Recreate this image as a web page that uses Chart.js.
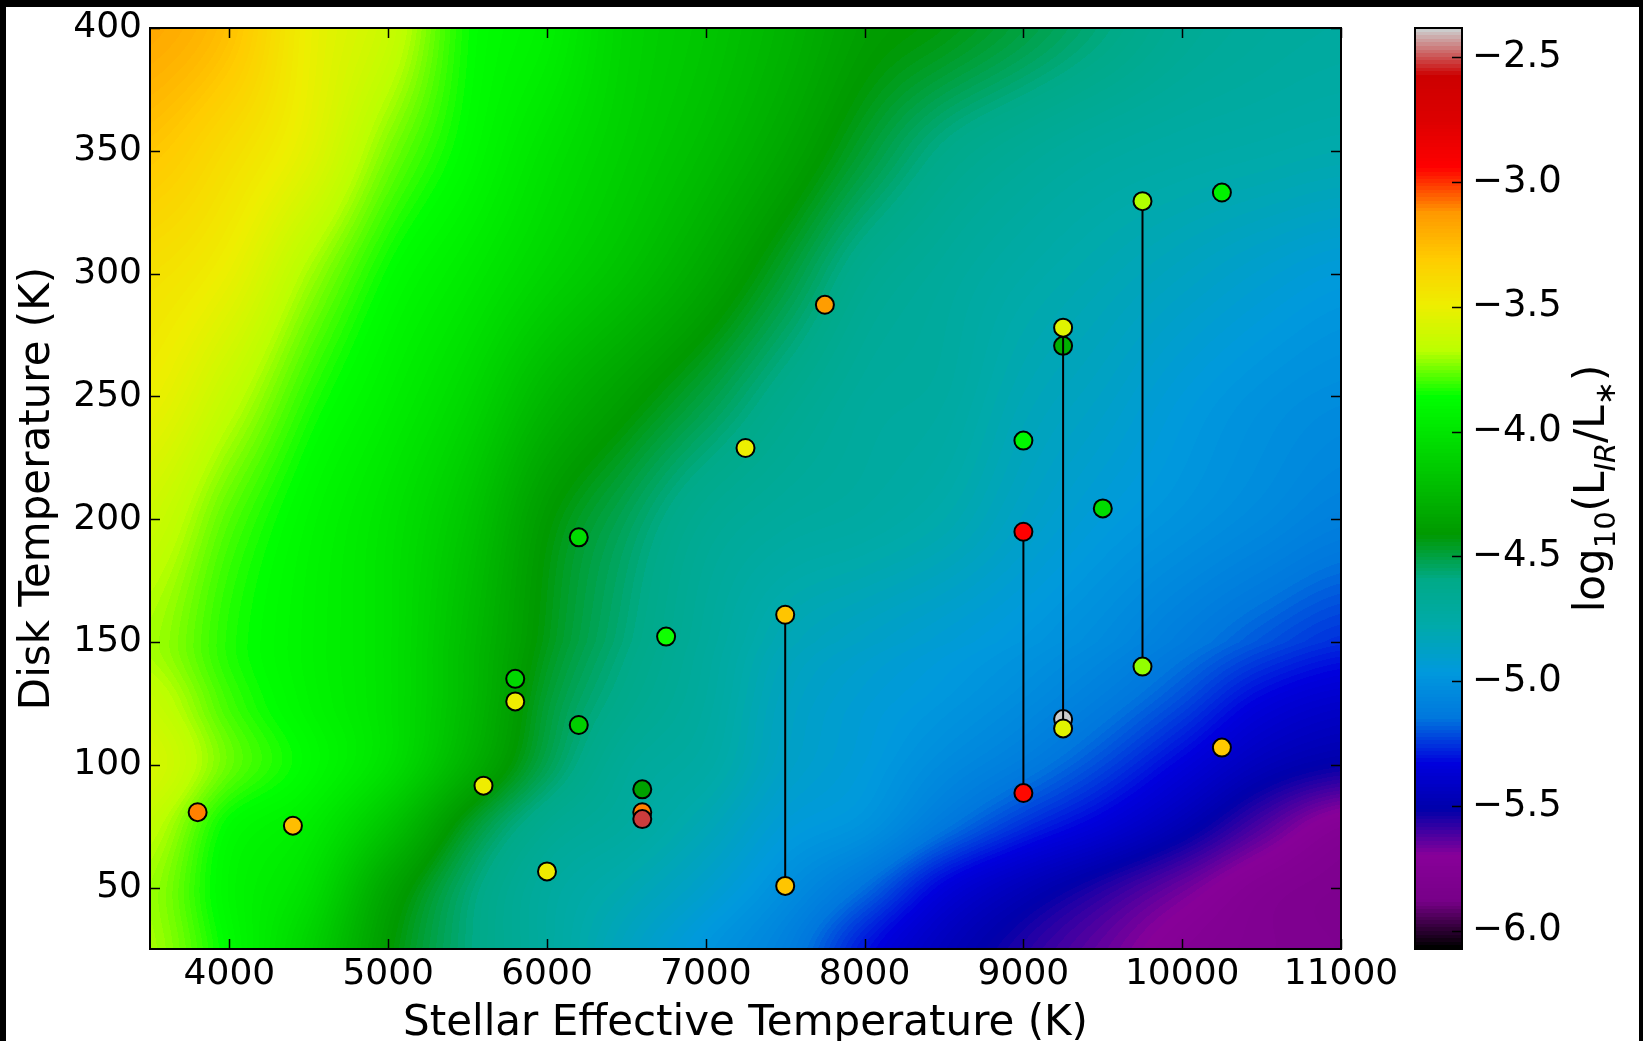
<!DOCTYPE html>
<html>
<head>
<meta charset="utf-8">
<script src="https://cdn.jsdelivr.net/npm/chart.js@4.4.1/dist/chart.umd.min.js"></script>
<style>
  html, body { margin: 0; padding: 0; background: #fff; }
  #wrap { position: relative; width: 1643px; height: 1041px; overflow: hidden; background: #fff; }
  canvas { position: absolute; left: 0; top: 0; }
  .edge { position: absolute; background: #000; }
</style>
</head>
<body>
<div id="wrap">
  <canvas id="main" width="1643" height="1041"></canvas>
  <canvas id="cbar" width="1643" height="1041"></canvas>
  <div class="edge" style="left:0;top:0;width:1643px;height:7px"></div>
  <div class="edge" style="left:0;top:0;width:6px;height:1041px"></div>
  <div class="edge" style="left:1639px;top:0;width:4px;height:1041px"></div>
</div>
<script>
const FONT = "'DejaVu Sans', 'Liberation Sans', sans-serif";

// ---- axis ticks ----
const teffTicks  = [4000, 5000, 6000, 7000, 8000, 9000, 10000, 11000];
const tdiskTicks = [50, 100, 150, 200, 250, 300, 350, 400];
const lirTicks   = [-6.0, -5.5, -5.0, -4.5, -4.0, -3.5, -3.0, -2.5];
const lirMin = -6.073, lirMax = -2.383;

// ---- log10(L_IR/L*) surface on a (Teff, Tdisk) grid ----
const gridTeff  = [3500, 4000, 4500, 5000, 5500, 6000, 6500, 7000, 7500, 8000, 8500, 9000, 9500, 10000, 10500, 11000];
const gridTdisk = [25, 50, 75, 100, 125, 150, 200, 250, 300, 350, 400];
const lirAt025 = [-3.70,-3.88,-4.10,-4.40,-4.58,-4.72,-4.86,-4.98,-5.10,-5.30,-5.45,-5.56,-5.65,-5.74,-5.78,-5.80];
const lirAt050 = [-3.71,-3.90,-4.03,-4.34,-4.56,-4.71,-4.80,-4.90,-5.02,-5.16,-5.34,-5.46,-5.56,-5.66,-5.76,-5.80];
const lirAt075 = [-3.66,-3.87,-3.96,-4.18,-4.46,-4.64,-4.72,-4.82,-4.94,-5.00,-5.14,-5.26,-5.36,-5.48,-5.62,-5.74];
const lirAt100 = [-3.58,-3.76,-3.88,-4.03,-4.28,-4.52,-4.68,-4.75,-4.88,-4.95,-5.04,-5.12,-5.22,-5.34,-5.46,-5.52];
const lirAt125 = [-3.64,-3.80,-3.91,-4.02,-4.23,-4.48,-4.62,-4.72,-4.86,-4.93,-4.98,-5.04,-5.12,-5.22,-5.34,-5.40];
const lirAt150 = [-3.70,-3.83,-3.92,-4.02,-4.22,-4.44,-4.58,-4.70,-4.82,-4.88,-4.93,-4.98,-5.04,-5.12,-5.20,-5.26];
const lirAt200 = [-3.62,-3.78,-3.90,-4.01,-4.17,-4.40,-4.53,-4.65,-4.71,-4.74,-4.79,-4.88,-4.95,-5.00,-5.05,-5.10];
const lirAt250 = [-3.50,-3.65,-3.82,-3.94,-4.07,-4.25,-4.38,-4.50,-4.62,-4.70,-4.73,-4.82,-4.88,-4.95,-5.00,-5.03];
const lirAt300 = [-3.42,-3.51,-3.70,-3.86,-3.97,-4.09,-4.20,-4.33,-4.48,-4.63,-4.70,-4.76,-4.81,-4.86,-4.91,-4.95];
const lirAt350 = [-3.29,-3.40,-3.54,-3.74,-3.88,-4.01,-4.12,-4.22,-4.34,-4.48,-4.60,-4.67,-4.72,-4.75,-4.77,-4.79];
const lirAt400 = [-3.18,-3.27,-3.50,-3.63,-3.85,-3.94,-4.09,-4.17,-4.27,-4.38,-4.43,-4.50,-4.58,-4.66,-4.70,-4.72];
const gridLir = [lirAt025, lirAt050, lirAt075, lirAt100, lirAt125, lirAt150, lirAt200, lirAt250, lirAt300, lirAt350, lirAt400];

// ---- single-temperature disks ----
const singleTeff  = [3800, 4400, 5600, 5800, 5800, 6000, 6200, 6200, 6600, 6600, 6600, 6750, 7250, 7750, 9000, 9250, 9500, 9250, 10250, 10250];
const singleTdisk = [80.7, 75.2, 91.5, 135.0, 125.8, 56.6, 192.6, 116.2, 90.0, 80.7, 77.9, 152.2, 229.0, 287.3, 232.0, 270.6, 204.4, 118.6, 333.0, 107.0];
const singleLir   = [-3.09, -3.26, -3.49, -4.08, -3.48, -3.47, -4.05, -4.12, -4.37, -3.10, -2.52, -3.84, -3.50, -3.14, -3.90, -4.30, -4.05, -2.385, -3.93, -3.30];

// ---- two-temperature disks (warm and cold belts) ----
const pairTeff    = [7500, 9000, 9250, 9750];
const pairWarm    = [161.1, 194.9, 278.0, 329.5];
const pairCold    = [50.7, 88.5, 114.8, 140.0];
const pairWarmLir = [-3.29, -2.94, -3.55, -3.69];
const pairColdLir = [-3.29, -2.95, -3.55, -3.72];

// ---- nipy_spectral colormap, 256-entry lookup ----
const nipyR = [0,0.4667,0.5333,0,0,0,0,0,0,0,0,0,0,0.7333,0.9333,1,1,1,0.8667,0.8,0.8];
const nipyG = [0,0,0,0,0,0.4667,0.6,0.6667,0.6667,0.6,0.7333,0.8667,1,1,0.9333,0.8,0.6,0,0,0,0.8];
const nipyB = [0,0.5333,0.6,0.6667,0.8667,0.8667,0.8667,0.6667,0.5333,0,0,0,0,0,0,0,0,0,0,0,0.8];
const lut = [];
for (let i = 0; i < 256; i++) {
  const f = i / 255 / 0.05;
  const k = Math.min(19, Math.floor(f));
  const t = f - k;
  const ch = a => Math.round(255 * (a[k] + (a[k + 1] - a[k]) * t));
  lut.push([ch(nipyR), ch(nipyG), ch(nipyB)]);
}
function lutColor(v) {
  let idx = Math.floor((v - lirMin) / (lirMax - lirMin) * 256);
  idx = Math.max(0, Math.min(255, idx));
  return lut[idx];
}
function cssColor(v) {
  const c = lutColor(v);
  return `rgb(${c[0]},${c[1]},${c[2]})`;
}

// cubic (Catmull-Rom) weights over the four surrounding grid nodes
function cubicStencil(arr, v) {
  const n = arr.length - 1;
  let i, t;
  if (v <= arr[0]) { i = 0; t = 0; }
  else if (v >= arr[n]) { i = n - 1; t = 1; }
  else {
    i = 0;
    while (v > arr[i + 1]) i++;
    t = (v - arr[i]) / (arr[i + 1] - arr[i]);
  }
  const t2 = t * t, t3 = t2 * t;
  const clamp = k => Math.max(0, Math.min(n, k));
  return {
    idx: [clamp(i - 1), i, clamp(i + 1), clamp(i + 2)],
    w: [0.5 * (-t + 2 * t2 - t3), 0.5 * (2 - 5 * t2 + 3 * t3), 0.5 * (t + 4 * t2 - 3 * t3), 0.5 * (-t2 + t3)]
  };
}

// surface painted behind the points, pixel by pixel through the chart scales
const surfacePlugin = {
  id: 'lirSurface',
  beforeDatasetsDraw(chart) {
    const { ctx, chartArea: a, scales: { x, y } } = chart;
    const L = Math.round(a.left), T = Math.round(a.top);
    const W = Math.round(a.right) - L, H = Math.round(a.bottom) - T;
    const img = ctx.createImageData(W, H);
    // each grid row interpolated along Teff at every pixel column
    const rowsAtCol = gridLir.map(() => new Float64Array(W));
    for (let i = 0; i < W; i++) {
      const st = cubicStencil(gridTeff, x.getValueForPixel(L + i + 0.5));
      gridLir.forEach((row, r) => {
        let s = 0;
        for (let k = 0; k < 4; k++) s += st.w[k] * row[st.idx[k]];
        rowsAtCol[r][i] = s;
      });
    }
    let p = 0;
    for (let j = 0; j < H; j++) {
      const st = cubicStencil(gridTdisk, y.getValueForPixel(T + j + 0.5));
      const r0 = rowsAtCol[st.idx[0]], r1 = rowsAtCol[st.idx[1]], r2 = rowsAtCol[st.idx[2]], r3 = rowsAtCol[st.idx[3]];
      const [w0, w1, w2, w3] = st.w;
      for (let i = 0; i < W; i++) {
        const col = lutColor(w0 * r0[i] + w1 * r1[i] + w2 * r2[i] + w3 * r3[i]);
        img.data[p++] = col[0]; img.data[p++] = col[1]; img.data[p++] = col[2]; img.data[p++] = 255;
      }
    }
    ctx.putImageData(img, L, T);
  }
};

// spines, inward ticks on all four sides, axis titles
const framePlugin = {
  id: 'frame',
  afterDraw(chart) {
    const { ctx, chartArea: a, scales: { x, y } } = chart;
    ctx.save();
    ctx.strokeStyle = '#000';
    ctx.lineWidth = 1.5;
    ctx.beginPath();
    teffTicks.forEach(v => {
      const px = Math.round(x.getPixelForValue(v)) + 0.5;
      ctx.moveTo(px, a.bottom); ctx.lineTo(px, a.bottom - 10);
      ctx.moveTo(px, a.top); ctx.lineTo(px, a.top + 10);
    });
    tdiskTicks.forEach(v => {
      const py = Math.round(y.getPixelForValue(v)) + 0.5;
      ctx.moveTo(a.left, py); ctx.lineTo(a.left + 10, py);
      ctx.moveTo(a.right, py); ctx.lineTo(a.right - 10, py);
    });
    ctx.stroke();
    ctx.lineWidth = 2;
    ctx.strokeRect(a.left, a.top, a.right - a.left, a.bottom - a.top);

    ctx.fillStyle = '#000';
    ctx.font = `42px ${FONT}`;
    ctx.textAlign = 'center';
    ctx.textBaseline = 'alphabetic';
    ctx.fillText('Stellar Effective Temperature (K)', (a.left + a.right) / 2, 1035);
    ctx.translate(49, (a.top + a.bottom) / 2);
    ctx.rotate(-Math.PI / 2);
    ctx.fillText('Disk Temperature (K)', 0, 0);
    ctx.restore();
  }
};

const pointStyle = { borderColor: '#000', borderWidth: 2, pointRadius: 9, pointHoverRadius: 9, pointHitRadius: 0 };
const datasets = [];
datasets.push(Object.assign({
  label: 'single',
  data: singleTeff.map((t, i) => ({ x: t, y: singleTdisk[i] })),
  backgroundColor: singleLir.map(cssColor),
  order: 2
}, pointStyle));
pairTeff.forEach((t, i) => {
  datasets.push({
    type: 'line',
    label: 'pair' + i,
    data: [{ x: t, y: pairWarm[i] }, { x: t, y: pairCold[i] }],
    borderColor: '#000', borderWidth: 2, pointRadius: 0, fill: false, showLine: true,
    order: 1
  });
});
datasets.push(Object.assign({
  label: 'warm',
  data: pairTeff.map((t, i) => ({ x: t, y: pairWarm[i] })),
  backgroundColor: pairWarmLir.map(cssColor),
  order: 0
}, pointStyle));
datasets.push(Object.assign({
  label: 'cold',
  data: pairTeff.map((t, i) => ({ x: t, y: pairCold[i] })),
  backgroundColor: pairColdLir.map(cssColor),
  order: 0
}, pointStyle));

new Chart(document.getElementById('main'), {
  type: 'scatter',
  data: { datasets },
  options: {
    responsive: false, animation: false, events: [],
    layout: { padding: { left: 0, top: 28, right: 302, bottom: 0 } },
    plugins: { legend: { display: false }, tooltip: { enabled: false } },
    scales: {
      x: {
        type: 'linear', min: 3500, max: 11000,
        afterBuildTicks(s) { s.ticks = teffTicks.map(v => ({ value: v })); },
        afterFit(s) { s.height = 92; s.paddingLeft = 0; s.paddingRight = 0; },
        grid: { display: false, drawTicks: false }, border: { display: false },
        ticks: { padding: 4, color: '#000', maxRotation: 0, autoSkip: false,
                 font: { family: FONT, size: 36 }, callback: v => String(v) }
      },
      y: {
        type: 'linear', min: 25, max: 400,
        afterBuildTicks(s) { s.ticks = tdiskTicks.map(v => ({ value: v })); },
        afterFit(s) { s.width = 150; s.paddingTop = 0; s.paddingBottom = 0; },
        grid: { display: false, drawTicks: false }, border: { display: false },
        ticks: { padding: 8, color: '#000', autoSkip: false,
                 font: { family: FONT, size: 36 }, callback: v => String(v) }
      }
    }
  },
  plugins: [surfacePlugin, framePlugin]
});

// ---- colour bar ----
const cbarLabel = [
  { t: 'log' }, { t: '10', sub: true }, { t: '(L' }, { t: 'IR', sub: true, italic: true },
  { t: '/L' }, { t: '\u2217', sub: true }, { t: ')' }
];
const colorbarPlugin = {
  id: 'colorbar',
  afterDraw(chart) {
    const { ctx, chartArea: a, scales: { y } } = chart;
    ctx.save();
    for (let py = Math.round(a.top); py < Math.round(a.bottom); py++) {
      ctx.fillStyle = cssColor(y.getValueForPixel(py + 0.5));
      ctx.fillRect(a.left, py, a.right - a.left, 1);
    }
    ctx.strokeStyle = '#000';
    ctx.lineWidth = 1.5;
    ctx.beginPath();
    lirTicks.forEach(v => {
      const py = Math.round(y.getPixelForValue(v)) + 0.5;
      ctx.moveTo(a.right, py); ctx.lineTo(a.right - 10, py);
    });
    ctx.stroke();
    ctx.lineWidth = 2;
    ctx.strokeRect(a.left, a.top, a.right - a.left, a.bottom - a.top);

    const size = 42;
    const fontFor = p => `${p.italic ? 'italic ' : ''}${p.sub ? Math.round(size * 0.7) : size}px ${FONT}`;
    let total = 0;
    cbarLabel.forEach(p => { ctx.font = fontFor(p); p.w = ctx.measureText(p.t).width; total += p.w; });
    ctx.translate(1604, (a.top + a.bottom) / 2);
    ctx.rotate(-Math.PI / 2);
    ctx.fillStyle = '#000';
    ctx.textAlign = 'left';
    ctx.textBaseline = 'alphabetic';
    let tx = -total / 2;
    cbarLabel.forEach(p => {
      ctx.font = fontFor(p);
      ctx.fillText(p.t, tx, p.sub ? size * 0.26 : 0);
      tx += p.w;
    });
    ctx.restore();
  }
};

new Chart(document.getElementById('cbar'), {
  type: 'scatter',
  data: { datasets: [] },
  options: {
    responsive: false, animation: false, events: [],
    layout: { padding: { left: 1415, top: 28, right: 0, bottom: 92 } },
    plugins: { legend: { display: false }, tooltip: { enabled: false } },
    scales: {
      x: { type: 'linear', display: false, min: 0, max: 1 },
      y: {
        type: 'linear', position: 'right', min: lirMin, max: lirMax,
        afterBuildTicks(s) { s.ticks = lirTicks.map(v => ({ value: v })); },
        afterFit(s) { s.width = 181; s.paddingTop = 0; s.paddingBottom = 0; },
        grid: { display: false, drawTicks: false }, border: { display: false },
        ticks: { padding: 10, color: '#000', autoSkip: false,
                 font: { family: FONT, size: 37 },
                 callback: v => v.toFixed(1).replace('-', '\u2212') }
      }
    }
  },
  plugins: [colorbarPlugin]
});
</script>
</body>
</html>
